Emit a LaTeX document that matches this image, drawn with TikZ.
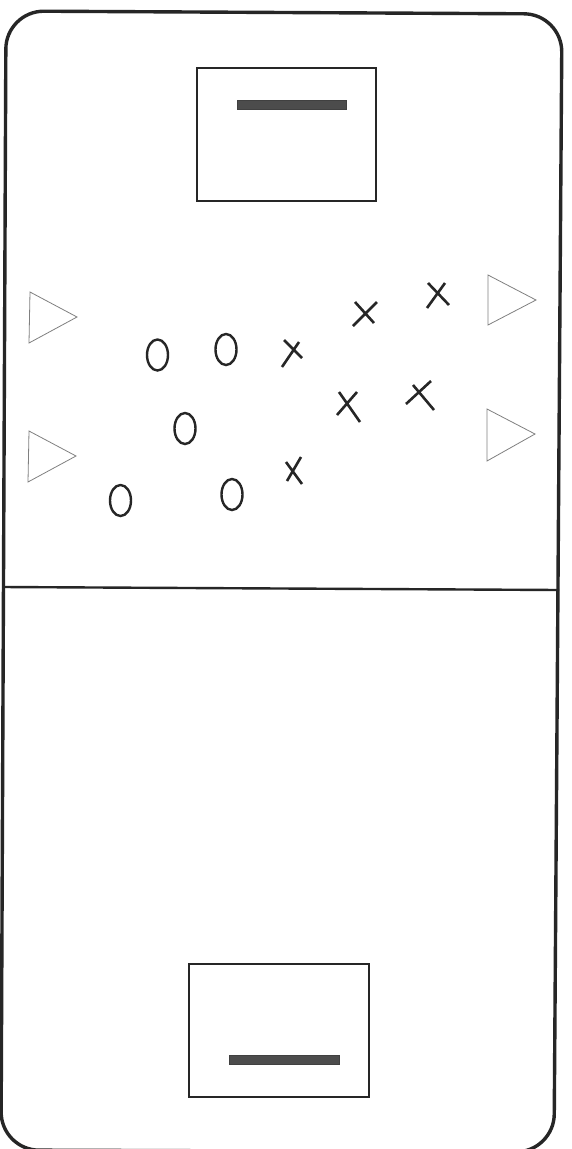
\documentclass[tikz,border=0pt]{standalone}
\begin{document}
\begin{tikzpicture}[x=1pt,y=-1pt,
  frame/.style={line width=3.4pt,draw=black!85,rounded corners=38pt},
  halfline/.style={line width=2.4pt,draw=black!85},
  goalbox/.style={line width=2.4pt,draw=black!85},
  goalbar/.style={fill=black!70,draw=black!75,line width=0.6pt},
  cone/.style={line width=0.8pt,draw=black!50,line join=miter},
  omark/.style={line width=2.4pt,draw=black!85},
  xmark/.style={line width=2.6pt,draw=black!85}]
\useasboundingbox (0,0) rectangle (571,1149);
\fill[white] (0,0) rectangle (571,1149);
% pitch outline
\draw[frame] (6,11) -- (562,14) -- (554,1152) -- (1,1150) -- cycle;
% halfway line
\coordinate (hl) at (3,587);
\coordinate (hr) at (559,590);
\draw[halfline] (hl) -- (hr);
% top goal
\draw[goalbox] (197,68) rectangle (376,201);
\draw[goalbar] (237,100) rectangle (346,109);
% bottom goal
\draw[goalbox] (189,964) rectangle (369,1097);
\draw[goalbar] (229,1055) rectangle (339,1064);
% cones
\draw[cone] (30,292) -- (77,317) -- (29,343) -- cycle;
\draw[cone] (29,431) -- (76,456) -- (28,482) -- cycle;
\draw[cone] (488,275) -- (536,300) -- (488,325) -- cycle;
\draw[cone] (487,409) -- (535,434) -- (487,461) -- cycle;
% O players
\draw[omark] (157.5,355) ellipse [x radius=10.5, y radius=15.5];
\draw[omark] (226,349.5) ellipse [x radius=10.5, y radius=15.5];
\draw[omark] (185,428.5) ellipse [x radius=10.5, y radius=15.5];
\draw[omark] (120.5,500.5) ellipse [x radius=10.5, y radius=15.5];
\draw[omark] (232,494.5) ellipse [x radius=10.5, y radius=15.5];
% X players
\draw[xmark] (284,340) -- (302,358) (299,342) -- (282,367);
\draw[xmark] (355,302) -- (374,323) (377,302) -- (353,326);
\draw[xmark] (428,283) -- (449,305) (445,283) -- (427,308);
\draw[xmark] (339,392) -- (360,422) (357,392) -- (337,415);
\draw[xmark] (406,404) -- (431,381) (413,385) -- (434,410);
\draw[xmark] (286,462) -- (302,484) (301,457) -- (287,481);
\end{tikzpicture}
\end{document}
